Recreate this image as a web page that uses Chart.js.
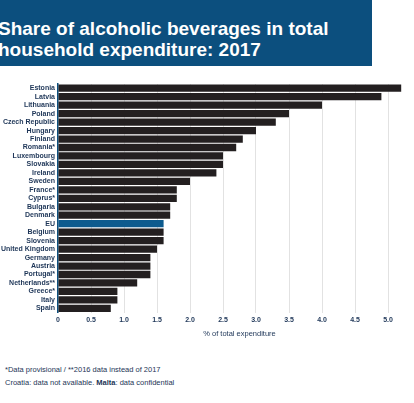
<!DOCTYPE html>
<html>
<head>
<meta charset="utf-8">
<script src="https://cdn.jsdelivr.net/npm/chart.js@4"></script>
<style>
  html, body { margin: 0; padding: 0; background: #fff; overflow: hidden; }
  body { width: 414px; height: 403px; position: relative; font-family: "Liberation Sans", Arial, sans-serif; }
  #banner {
    position: absolute; left: 0; top: 0; width: 372px; height: 66px;
    background: #0c4f7e; color: #fff;
    font-weight: bold; font-size: 19px; line-height: 20px;
  }
  #banner div { position: absolute; left: -2px; white-space: nowrap; }
  #wrap { position: absolute; left: 0; top: 70px; width: 424px; height: 268px; }
  #notes {
    position: absolute; left: 5px; top: 363px; color: #1d3557;
    font-size: 7.5px; line-height: 13px;
  }
</style>
</head>
<body>
<div id="banner">
  <div style="top:19px">Share of alcoholic beverages in total</div>
  <div style="top:40px">household expenditure: 2017</div>
</div>
<div id="wrap"><canvas id="chart"></canvas></div>
<div id="notes">
  <div>*Data provisional / **2016 data instead of 2017</div>
  <div>Croatia: data not available. <b>Malta</b>: data confidential</div>
</div>
<script>
// pays (ordre du graphique)
const countries = ['Estonia', 'Latvia', 'Lithuania', 'Poland', 'Czech Republic', 'Hungary', 'Finland',
  'Romania*', 'Luxembourg', 'Slovakia', 'Ireland', 'Sweden', 'France*', 'Cyprus*', 'Bulgaria',
  'Denmark', 'EU', 'Belgium', 'Slovenia', 'United Kingdom', 'Germany', 'Austria', 'Portugal*',
  'Netherlands**', 'Greece*', 'Italy', 'Spain'];

// part dans les dépenses totales (%)
const shares = [5.2, 4.9, 4.0, 3.5, 3.3, 3.0, 2.8, 2.7, 2.5, 2.5, 2.4, 2.0, 1.8, 1.8, 1.7,
  1.7, 1.6, 1.6, 1.6, 1.5, 1.4, 1.4, 1.4, 1.2, 0.9, 0.9, 0.8];

const tickLabels = ['0', '0.5', '1.0', '1.5', '2.0', '2.5', '3.0', '3.5', '4.0', '4.5', '5.0', ''];

const navy = '#1d3557';
const labelFont = "'Liberation Sans', Arial, sans-serif";
const barColors = countries.map(c => c === 'EU' ? '#0d5b8e' : '#231f20');

const ctx = document.getElementById('chart').getContext('2d');
new Chart(ctx, {
  type: 'bar',
  data: {
    labels: countries,
    datasets: [{
      data: shares,
      backgroundColor: barColors,
      barPercentage: 0.86,
      categoryPercentage: 1.0
    }]
  },
  options: {
    indexAxis: 'y',
    responsive: true,
    maintainAspectRatio: false,
    animation: false,
    layout: { padding: { top: 14, right: 0, bottom: 0, left: 0 } },
    plugins: { legend: { display: false }, tooltip: { enabled: false } },
    scales: {
      x: {
        min: 0,
        max: 5.5,
        ticks: {
          stepSize: 0.5,
          color: navy,
          font: { family: labelFont, size: 7, weight: 'bold' },
          padding: 3,
          callback: (v, i) => tickLabels[i]
        },
        grid: { color: '#e2e2e2', drawTicks: false },
        border: { display: false },
        title: {
          display: true,
          text: '% of total expenditure',
          color: navy,
          font: { family: labelFont, size: 7.5 },
          padding: { top: 2, bottom: 0 }
        }
      },
      y: {
        afterFit: s => { s.width = 58; },
        ticks: {
          color: navy,
          font: { family: labelFont, size: 7, weight: 'bold' },
          padding: 3,
          autoSkip: false
        },
        grid: { display: false, drawTicks: false },
        border: { display: true, color: '#0c4f7e', width: 1.5 }
      }
    }
  }
});
</script>
</body>
</html>
